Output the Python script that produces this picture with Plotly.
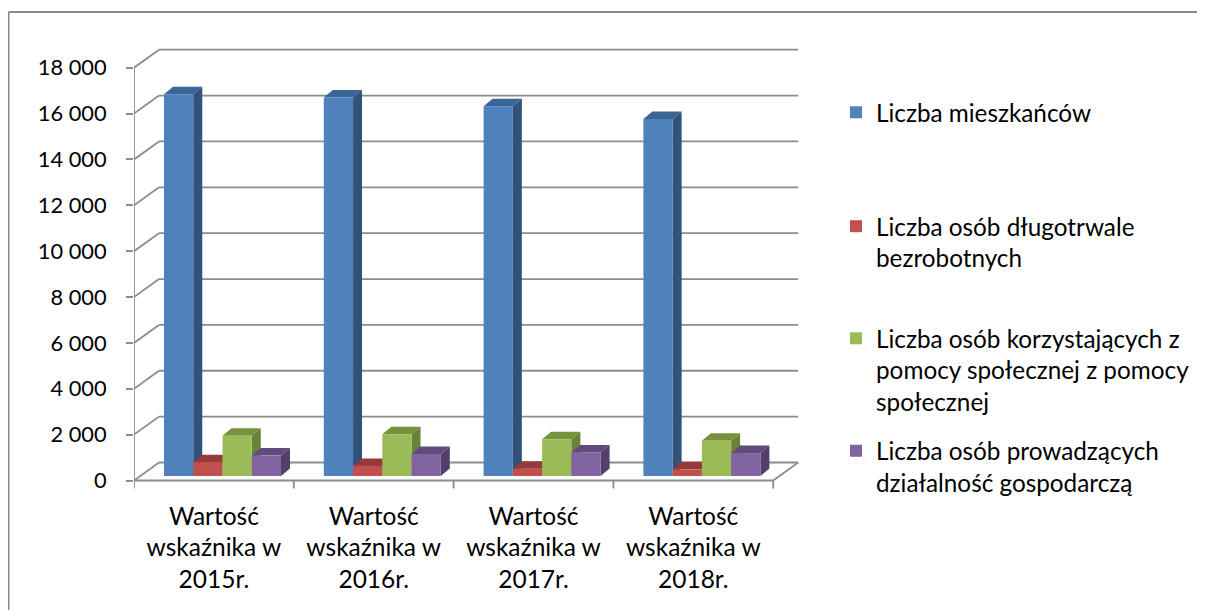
import plotly.graph_objects as go

# ---------------- data ----------------
categories = ["Wartość<br>wskaźnika w<br>2015r.", "Wartość<br>wskaźnika w<br>2016r.",
              "Wartość<br>wskaźnika w<br>2017r.", "Wartość<br>wskaźnika w<br>2018r."]
series_names = ["Liczba mieszkańców",
                "Liczba osób długotrwale<br>bezrobotnych",
                "Liczba osób korzystających z<br>pomocy społecznej z pomocy<br>społecznej",
                "Liczba osób prowadzących<br>działalność gospodarczą"]
mieszkancy = [16650, 16510, 16120, 15570]
bezrobotni = [600, 440, 320, 290]
pomoc_spoleczna = [1760, 1820, 1600, 1540]
dzialalnosc = [890, 960, 1030, 1000]
series_values = [mieszkancy, bezrobotni, pomoc_spoleczna, dzialalnosc]
y_tick_vals = [0, 2000, 4000, 6000, 8000, 10000, 12000, 14000, 16000, 18000]
y_tick_text = ["0", "2 000", "4 000", "6 000", "8 000", "10 000", "12 000", "14 000", "16 000", "18 000"]

# ---------------- styles / geometry ----------------
front_colors = ["#4f81bd", "#c0504d", "#9bbb59", "#8064a2"]
top_colors = ["#3b6596", "#963a38", "#76923c", "#614a7e"]
side_colors = ["#31527a", "#8b3431", "#68823a", "#52406c"]
GRID = "#8c8c8c"
FONT = "Lato"

PAGE_W, PAGE_H = 1205, 610
OFF = 8                                  # default body margin of the html page
W, H = PAGE_W - OFF, PAGE_H - OFF
L, R, T, B = 134, 800, 45, 492          # plot area in page px
px_per_x = 159.8                        # px per category
px_per_y = 0.022933                     # px per unit
zero_px = 480.5
x_range = [-0.5, -0.5 + (R - L) / px_per_x]
y_range = [(zero_px - B) / px_per_y, (zero_px - T) / px_per_y]

DX = 25 / px_per_x        # wall depth (x units)
DY = 18 / px_per_y        # wall depth (y units)
bar_base = 4.5 / px_per_y
bw = 29.25 / px_per_x
group_start = 30 / px_per_x - 0.5
ddx = 9 / px_per_x
ddy = 7.5 / px_per_y
tick_down = 8 / px_per_y
n_cat = len(categories)

fig = go.Figure()
shapes = []

def line(x0, y0, x1, y1, color=GRID, width=1.8):
    shapes.append(dict(type="line", x0=x0, y0=y0, x1=x1, y1=y1, xref="x", yref="y",
                       line=dict(color=color, width=width), layer="below"))

# back wall gridlines + left wall diagonals
for v in y_tick_vals:
    line(-0.5 + DX, v + DY, n_cat - 0.5 + DX, v + DY)
    line(-0.5, v, -0.5 + DX, v + DY)
# floor
line(-0.5, 0, n_cat - 0.5, 0)
line(n_cat - 0.5, 0, n_cat - 0.5 + DX, DY)
# front vertical axis
line(-0.5, -tick_down, -0.5, y_tick_vals[-1])
# category ticks
for i in range(1, n_cat + 1):
    line(i - 0.5, 0, i - 0.5, -tick_down)

# 3D side and top faces
for c in range(n_cat):
    for k, vals in enumerate(series_values):
        v = vals[c]
        xl = c + group_start + k * bw
        xr = xl + bw
        y0 = bar_base
        y1 = bar_base + v
        side = f"M{xr},{y0} L{xr + ddx},{y0 + ddy} L{xr + ddx},{y1 + ddy} L{xr},{y1} Z"
        top = f"M{xl},{y1} L{xr},{y1} L{xr + ddx},{y1 + ddy} L{xl + ddx},{y1 + ddy} Z"
        shapes.append(dict(type="path", path=side, xref="x", yref="y", fillcolor=side_colors[k],
                           line=dict(width=0), layer="below"))
        shapes.append(dict(type="path", path=top, xref="x", yref="y", fillcolor=top_colors[k],
                           line=dict(width=0), layer="below"))

# front faces as bars
legend_ids = ["legend", "legend2", "legend3", "legend4"]
xs = list(range(n_cat))
for k, vals in enumerate(series_values):
    fig.add_trace(go.Bar(
        x=xs, y=vals, base=[bar_base] * n_cat, width=bw, offset=group_start + k * bw,
        marker=dict(color=front_colors[k], line=dict(width=0)),
        name=series_names[k], legend=legend_ids[k], hoverinfo="skip"))

# outer chart border (left + top)
def ppx(px):
    return (px - L) / (R - L)
def ppy(py):
    return (B - py) / (B - T)
shapes.append(dict(type="line", xref="paper", yref="paper", x0=ppx(8.5), y0=ppy(12), x1=ppx(1210), y1=ppy(12),
                   line=dict(color="#8a8a8a", width=2)))
shapes.append(dict(type="line", xref="paper", yref="paper", x0=ppx(8.5), y0=ppy(12), x1=ppx(8.5), y1=ppy(615),
                   line=dict(color="#8a8a8a", width=2)))

legend_centers_px = [112.5, 242.4, 370, 467]
legend_layouts = {}
for k, lid in enumerate(legend_ids):
    legend_layouts[lid] = dict(x=ppx(836), y=ppy(legend_centers_px[k]), xanchor="left", yanchor="middle",
                               valign="top", bgcolor="rgba(0,0,0,0)", borderwidth=0,
                               font=dict(family=FONT, size=24.3, color="#000000"))

fig.update_layout(
    width=W, height=H,
    margin=dict(l=L - OFF, r=PAGE_W - R, t=T - OFF, b=PAGE_H - B, autoexpand=False),
    paper_bgcolor="white", plot_bgcolor="white",
    barmode="overlay", showlegend=True,
    font=dict(family=FONT, size=23, color="#000000"),
    shapes=shapes,
    xaxis=dict(range=x_range, tickvals=xs, ticktext=categories, showgrid=False, zeroline=False,
               showline=False, ticks="", ticklabelstandoff=7, fixedrange=True,
               tickfont=dict(family=FONT, size=24.5, color="#000000")),
    yaxis=dict(range=y_range, tickvals=y_tick_vals, ticktext=y_tick_text, showgrid=False, zeroline=False,
               showline=False, ticks="outside", ticklen=7, tickcolor=GRID, tickwidth=1.8,
               ticklabelstandoff=15, fixedrange=True,
               tickfont=dict(family=FONT, size=21.8, color="#000000")),
    **legend_layouts,
)

fig.write_html("out.html")
